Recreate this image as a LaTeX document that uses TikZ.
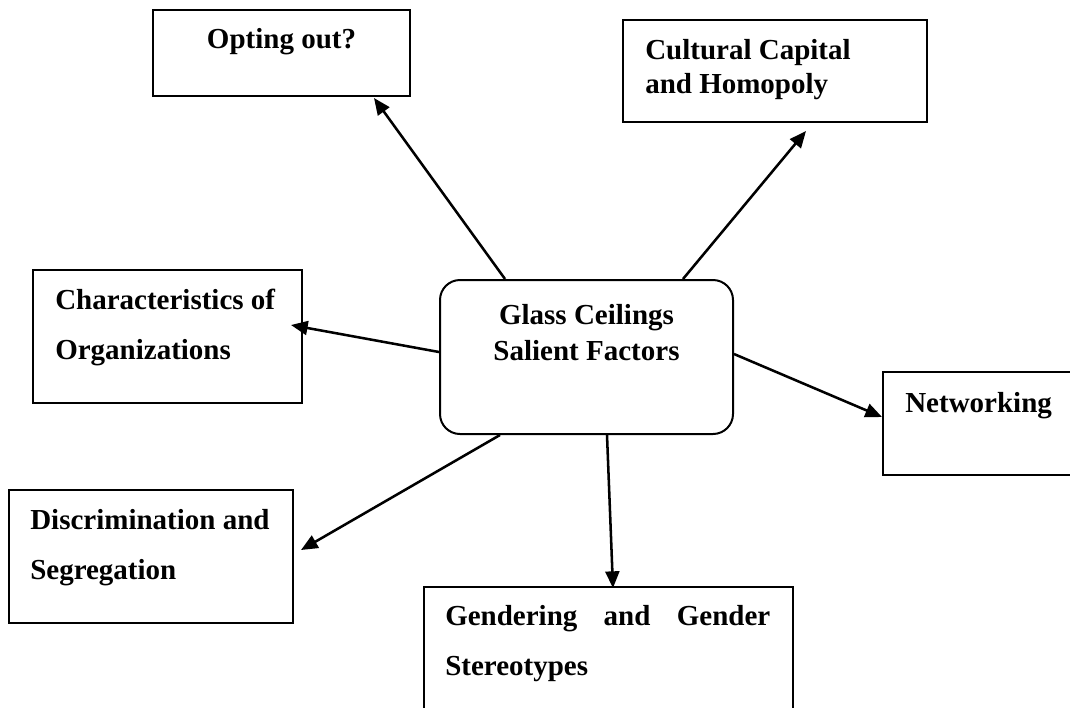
\documentclass[tikz,border=0pt]{standalone}
\usepackage{fontspec}
\setmainfont{Liberation Serif}
\usetikzlibrary{calc,arrows.meta}
\begin{document}
\begin{tikzpicture}[x=0.75pt,y=-0.75pt,
  box/.style={draw=black,line width=1.5pt,fill=none,inner sep=0pt},
  centerbox/.style={box,rounded corners=15pt},
  lbl/.style={inner sep=0pt,font=\fontsize{21.75pt}{26pt}\selectfont\bfseries},
  arr/.style={line width=1.9pt,-{Triangle[length=12.5pt,width=10.5pt]}}]
\useasboundingbox (0,0) rectangle (1070,707);
\clip (0,0) rectangle (1070,707);
% boxes
\node[box,minimum width=192.75pt,minimum height=64.5pt] (o) at (281.5,53) {};
\node[box,minimum width=228pt,minimum height=76.5pt] (cc) at (775,71) {};
\node[box,minimum width=201.75pt,minimum height=99.75pt] (ch) at (167.5,336.5) {};
\node[centerbox,minimum width=219.75pt,minimum height=115.5pt] (c) at (586.5,357) {};
\node[box,minimum width=147.75pt,minimum height=77.25pt] (n) at (981.5,423.5) {};
\node[box,minimum width=213pt,minimum height=99.75pt] (d) at (151,556.5) {};
\node[box,minimum width=276.75pt,minimum height=99.75pt] (g) at (608.5,653.5) {};
% texts
\node[lbl,anchor=base] (to) at (281.5,48) {Opting out?};
\node[lbl,anchor=base west] (tcc1) at (645,59) {Cultural Capital};
\node[lbl,anchor=base west] (tcc2) at (645,93) {and Homopoly};
\node[lbl,anchor=base west] (tch1) at (55,309) {Characteristics of};
\node[lbl,anchor=base west] (tch2) at (55,359) {Organizations};
\node[lbl,anchor=base] (tc1) at (586.5,324) {Glass Ceilings};
\node[lbl,anchor=base] (tc2) at (586.5,360) {Salient Factors};
\node[lbl,anchor=base west] (tn) at (905,412) {Networking};
\node[lbl,anchor=base west] (td1) at (30,529) {Discrimination and};
\node[lbl,anchor=base west] (td2) at (30,579) {Segregation};
\node[lbl,anchor=base west] (tg1) at (445,625) {\makebox[243.75pt][s]{Gendering and Gender}};
\node[lbl,anchor=base west] (tg2) at (445,675) {Stereotypes};
% connectors
\draw[arr] ($(c.north)+(-81.5,0)$) -- ($(o.south east)+(-37,1)$);
\draw[arr] ($(c.north)+(96.5,0)$) -- ($(cc.south)+(31,8)$);
\draw[arr] ($(c.west)+(0,-5)$) -- ($(ch.east)+(-12,-11.5)$);
\draw[arr] ($(c.east)+(0,-3)$) -- ($(n.west)+(0,-6.5)$);
\draw[arr] ($(c.south)+(-86.5,0)$) -- ($(d.east)+(7,-6.5)$);
\draw[arr] ($(c.south)+(20.5,0)$) -- ($(g.north)+(4.5,2)$);
\end{tikzpicture}
\end{document}
